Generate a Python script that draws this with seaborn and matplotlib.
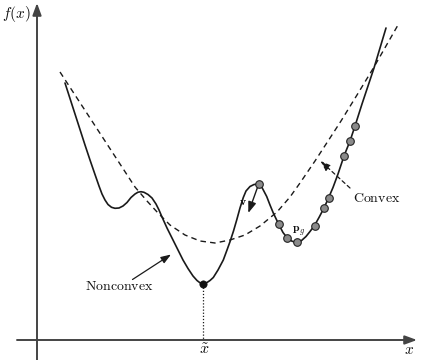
import matplotlib
matplotlib.use("Agg")
import matplotlib.pyplot as plt
import seaborn as sns
import pandas as pd

sns.set_theme(style="white")
plt.rcParams['mathtext.fontset'] = 'cm'
plt.rcParams['font.family'] = ['DejaVu Serif']

# Nonconvex curve (x, f) in picture units (y grows downward)
nonconvex_x = [65, 70, 75, 80, 85, 90, 95, 99, 102, 105, 108, 111.5, 115, 119, 123, 127, 131, 135, 138,
               141, 144, 148, 152, 156, 159, 162, 167, 173, 178, 183, 188, 193, 197, 200, 203.3, 207,
               210, 213.3, 218, 223.3, 227, 230, 233.5, 236.7, 240, 243.3, 246, 250, 254, 258.7, 262,
               266.7, 270, 273.3, 278.7, 283, 287.3, 292, 296.7, 301, 306, 310, 314.5, 319, 324, 328.5,
               333, 338, 344, 350, 355, 362, 368, 374, 380, 386]
nonconvex_y = [83, 98.5, 114, 129.5, 145, 160, 174.5, 186, 194, 200, 204.5, 207.3, 208.3, 208, 206,
               202.5, 197.5, 194, 192.2, 191.7, 192.3, 194.5, 198, 204, 210, 217, 228, 240, 250, 260,
               268.5, 276, 280.5, 282.8, 283.5, 282.5, 280.5, 277.5, 270, 260, 250, 241.7, 231, 220,
               208, 197.5, 191, 186.5, 184.5, 184, 187.5, 196.5, 205, 213, 224.3, 232.5, 238, 241.2, 242.3,
               241, 236.5, 231.5, 225.5, 217.5, 208, 198, 187.5, 174, 156, 141, 126, 104, 86, 68, 48, 28]

# Convex surrogate (dashed)
convex_x = [60, 75, 90, 105, 120, 135, 147, 158, 170, 185, 200, 215, 230, 245, 260, 277, 290, 300,
            315, 330, 341, 357, 374, 386, 398]
convex_y = [72, 95, 118, 141, 164, 187, 201, 213, 225, 235, 241, 243, 240, 235, 226, 212, 197, 183,
            161, 138, 121, 95, 67, 46, 25]

# Particles (gray dots)
particles_x = [258.7, 278.7, 287.3, 296.7, 314.5, 324, 328.5, 344, 350, 355]
particles_y = [184, 224.3, 238, 242.3, 225.5, 208, 198, 156, 141, 126]

# Global minimum
min_x = [203.3]
min_y = [283.5]

fig = plt.figure(figsize=(4.26, 3.60), dpi=100)
ax = fig.add_axes([0, 0, 1, 1])
ax.set_xlim(0, 426)
ax.set_ylim(360, 0)
ax.axis('off')

line_col = '#1a1a1a'
df_nc = pd.DataFrame({'x': nonconvex_x, 'y': nonconvex_y})
df_cv = pd.DataFrame({'x': convex_x, 'y': convex_y})
sns.lineplot(data=df_nc, x='x', y='y', sort=False, color=line_col, lw=1.2, ax=ax, estimator=None)
sns.lineplot(data=df_cv, x='x', y='y', sort=False, color=line_col, lw=1.0, ax=ax, estimator=None,
             linestyle=(0, (4, 3)))

# dotted drop line to x axis
ax.plot([min_x[0], min_x[0]], [min_y[0], 340], color=line_col, lw=0.9, linestyle=(0, (1, 1.5)))

sns.scatterplot(x=particles_x, y=particles_y, s=30, color='#8a8a8a', edgecolor='#222222',
                linewidth=0.8, ax=ax, zorder=5)
sns.scatterplot(x=min_x, y=min_y, s=28, color='#111111', edgecolor='#111111', ax=ax, zorder=5)

axis_col = '#444444'
# axes with arrows
ax.annotate('', xy=(417, 340), xytext=(17, 340),
            arrowprops=dict(arrowstyle='-|>,head_length=0.6,head_width=0.22', color=axis_col, lw=1.4,
                            shrinkA=0, shrinkB=0))
ax.annotate('', xy=(37, 3), xytext=(37, 360),
            arrowprops=dict(arrowstyle='-|>,head_length=0.6,head_width=0.22', color=axis_col, lw=1.4,
                            shrinkA=0, shrinkB=0))

# v arrow
ax.annotate('', xy=(248.3, 213), xytext=(258.7, 184),
            arrowprops=dict(arrowstyle='-|>,head_length=0.55,head_width=0.2', color=line_col, lw=1.0,
                            shrinkA=0, shrinkB=0))
# Nonconvex arrow
ax.annotate('', xy=(171, 254.5), xytext=(132.5, 279.5),
            arrowprops=dict(arrowstyle='-|>,head_length=0.5,head_width=0.18', color=line_col, lw=0.9,
                            shrinkA=0, shrinkB=0))
# Convex arrow (dashed)
ax.annotate('', xy=(320.5, 161), xytext=(350, 188),
            arrowprops=dict(arrowstyle='-|>,head_length=0.5,head_width=0.18', color=line_col, lw=0.9,
                            shrinkA=0, shrinkB=0, linestyle=(0, (3, 2.5))))

ax.text(16, 14, r'$f(x)$', fontsize=11, ha='center', va='center', color='#111111')
ax.text(409, 350, r'$x$', fontsize=11, ha='center', va='center', color='#111111')
ax.text(204, 350, r'$\tilde{x}$', fontsize=11.5, ha='center', va='center', color='#111111')
ax.text(119, 286, r'$\mathrm{Nonconvex}$', fontsize=10, ha='center', va='center', color='#111111')
ax.text(377, 198, r'$\mathrm{Convex}$', fontsize=10, ha='center', va='center', color='#111111')
ax.text(243, 201.5, r'$\mathbf{v}$', fontsize=8.5, ha='center', va='center', color='#111111')
ax.text(299, 231, r'$\mathbf{p}_g$', fontsize=8.5, ha='center', va='center', color='#111111')

fig.savefig('out.png', dpi=100)
